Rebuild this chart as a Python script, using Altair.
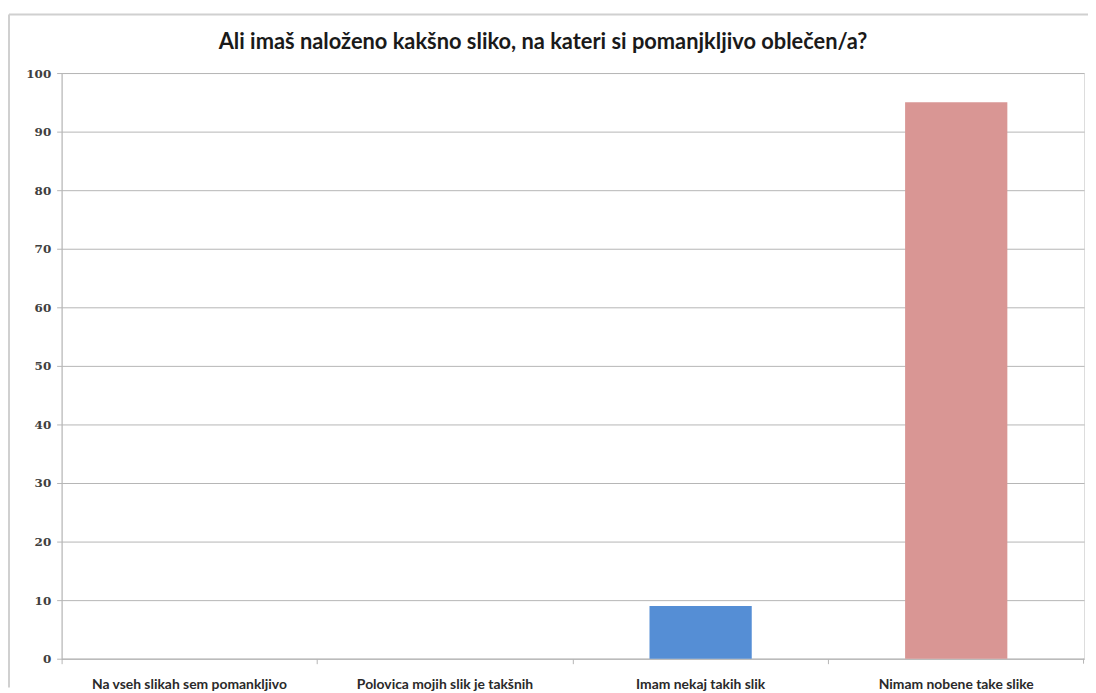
import altair as alt
import pandas as pd

categories = [
    "Na vseh slikah sem pomankljivo",
    "Polovica mojih slik je takšnih",
    "Imam nekaj takih slik",
    "Nimam nobene take slike",
]
values = [0, 0, 9, 95]
colors = ["#558ED5", "#558ED5", "#558ED5", "#D99694"]
y_ticks = [0, 10, 20, 30, 40, 50, 60, 70, 80, 90, 100]
title_text = "Ali imaš naloženo kakšno sliko, na kateri si pomanjkljivo oblečen/a?"

df = pd.DataFrame({"cat": categories, "val": values, "col": colors})

W, H = 1030, 590

one = pd.DataFrame({"t": [title_text]})

border_left = alt.Chart(one).mark_rule(
    stroke="#d0d0d0", strokeWidth=2, clip=False
).encode(x=alt.value(-53), y=alt.value(-59), y2=alt.value(H + 29))

border_top = alt.Chart(one).mark_rule(
    stroke="#d0d0d0", strokeWidth=2, clip=False
).encode(x=alt.value(-53), x2=alt.value(W + 4), y=alt.value(-59))

end_tick = alt.Chart(one).mark_rule(
    stroke="#b5b5b5", strokeWidth=1, clip=False
).encode(x=alt.value(W - 0.5), y=alt.value(H), y2=alt.value(H + 5))

title = alt.Chart(one).mark_text(
    font="Lato", fontSize=22, fontWeight="bold", color="#1a1a1a",
    align="center", baseline="middle", clip=False
).encode(
    text="t:N", x=alt.value(485), y=alt.value(-31)
)

bars = alt.Chart(df).mark_bar(width=alt.RelativeBandSize(0.4)).encode(
    x=alt.X(
        "cat:N",
        sort=categories,
        scale=alt.Scale(paddingInner=0, paddingOuter=0),
        axis=alt.Axis(
            title=None,
            labelAngle=0,
            bandPosition=0,
            labelFont="Lato",
            labelFontWeight="bold",
            labelFontSize=14,
            labelColor="#2a2a2a",
            labelPadding=14,
            labelBaseline="top",
            domainColor="#b5b5b5",
            tickColor="#b5b5b5",
            tickSize=5,
            labelLimit=300,
        ),
    ),
    y=alt.Y(
        "val:Q",
        scale=alt.Scale(domain=[0, 100], nice=False),
        axis=alt.Axis(
            title=None,
            values=y_ticks,
            labelFont="DejaVu Serif",
            labelFontWeight="bold",
            labelFontSize=12,
            labelColor="#404040",
            labelPadding=6,
            domainColor="#b5b5b5",
            tickColor="#b5b5b5",
            tickSize=5,
            gridColor="#b5b5b5",
            gridWidth=1,
        ),
    ),
    color=alt.Color("col:N", scale=None, legend=None),
)

chart = alt.layer(border_left, border_top, end_tick, bars, title).properties(
    width=W,
    height=H,
    padding={"left": 54, "top": 63, "right": 4, "bottom": 30},
    autosize=alt.AutoSizeParams(type="none"),
).configure_view(stroke=None).configure(background="white")

chart.save("out.html", embed_options={"renderer": "svg", "actions": False})
